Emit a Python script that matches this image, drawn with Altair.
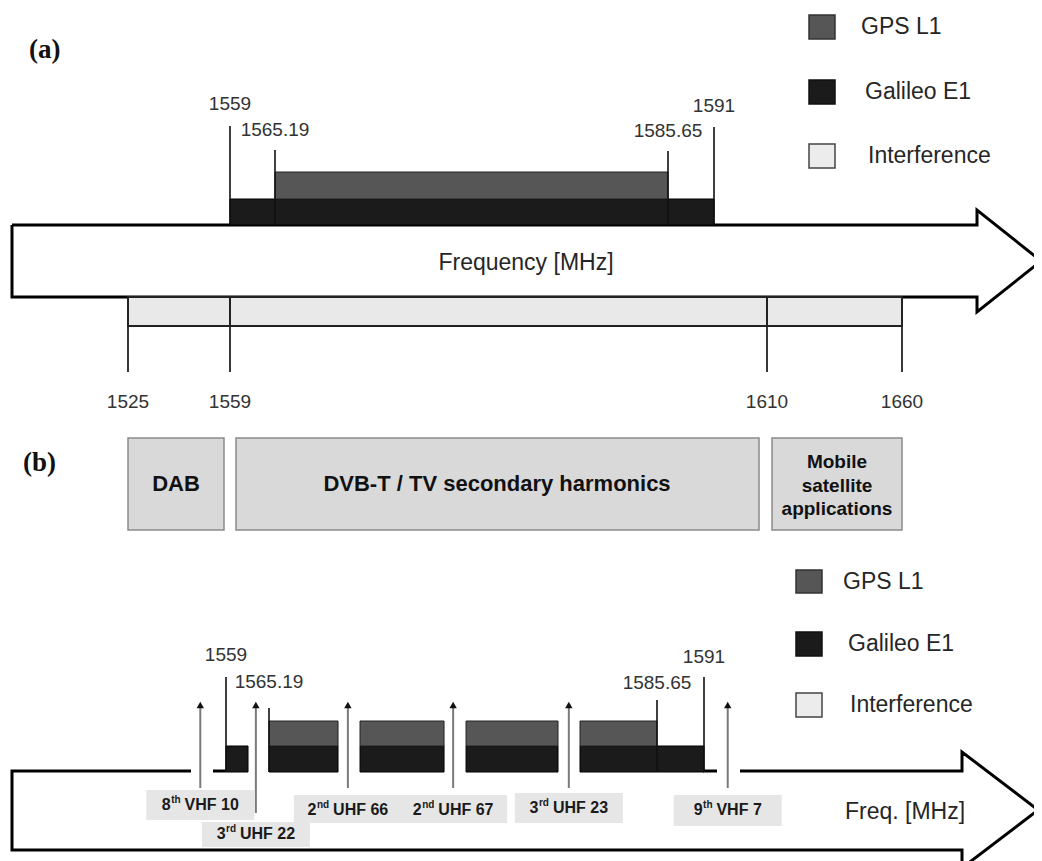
import altair as alt
import pandas as pd

# ---------------- data ----------------
LEGEND_NAMES = ["GPS L1", "Galileo E1", "Interference"]
GPS_L1 = [1565.19, 1585.65]
GALILEO_E1 = [1559, 1591]
TOP_FREQS = [1559, 1565.19, 1585.65, 1591]
TOP_LABELS = ["1559", "1565.19", "1585.65", "1591"]
INTERF_EDGES = [1525, 1559, 1610, 1660]
INTERF_LABELS = ["1525", "1559", "1610", "1660"]
BAND_NAMES = ["DAB", "DVB-T / TV secondary harmonics", "Mobile satellite applications"]
BAND_START = [1525, 1559, 1610]
BAND_END = [1559, 1610, 1660]
# panel (b): GNSS bands broken where the harmonics fall
GPS_SEG_START = [1565.19, 1569.99, 1575.58, 1581.59]
GPS_SEG_END = [1568.83, 1574.42, 1580.43, 1585.65]
GAL_SEG_START = [1559, 1565.19, 1569.99, 1575.58, 1581.59]
GAL_SEG_END = [1562.17, 1568.83, 1574.42, 1580.43, 1591]
HARM_ORDER = ["8", "3", "2", "2", "3", "9"]
HARM_SUP = ["th", "rd", "nd", "nd", "rd", "th"]
HARM_CH = ["VHF 10", "UHF 22", "UHF 66", "UHF 67", "UHF 23", "VHF 7"]
HARM_FREQ = [1555.3, 1563.3, 1569.35, 1574.9, 1581.0, 1593.7]

# ---------------- layout ----------------
W, H = 1026, 853
OFF = 8


def px(v):
    return v - OFF


C_GPS = "#565656"
C_GAL = "#1b1b1b"
C_INT = "#e9e9e9"
C_BOX = "#d9d9d9"
C_LAB = "#e6e6e6"
FONT = "Liberation Sans"

SX_A = alt.Scale(domain=[1525, 1559, 1565.19, 1585.65, 1591, 1610, 1660],
                 range=[px(v) for v in [128, 230, 275, 668, 714, 767, 902]],
                 nice=False, zero=False)
SX_B = alt.Scale(domain=[1559, 1565.19, 1585.65, 1591],
                 range=[px(v) for v in [226, 269, 657, 704]],
                 nice=False, zero=False)

dummy = pd.DataFrame({"d": [0]})
layers = []


def poly(points, w=3):
    df = pd.DataFrame({"x": [px(p[0]) for p in points],
                       "y": [px(p[1]) for p in points],
                       "i": list(range(len(points)))})
    return alt.Chart(df).mark_line(color="#000", strokeWidth=w, strokeJoin="miter").encode(
        x=alt.X("x:Q", scale=None), y=alt.Y("y:Q", scale=None), order="i:Q")


def hline(x1, x2, y, w=3):
    return alt.Chart(dummy).mark_rule(color="#000", strokeWidth=w).encode(
        x=alt.value(px(x1)), x2=alt.value(px(x2)), y=alt.value(px(y)))


def rect_px(x1, y1, x2, y2, fill, stroke, sw=1.5):
    return alt.Chart(dummy).mark_rect(fill=fill, stroke=stroke, strokeWidth=sw).encode(
        x=alt.value(px(x1)), x2=alt.value(px(x2)), y=alt.value(px(y1)), y2=alt.value(px(y2)))


def text_px(s, x, y, size, align="left", weight="normal", color="#262626", font=FONT):
    return alt.Chart(dummy).mark_text(text=s, align=align, baseline="middle", fontSize=size,
                                      fontWeight=weight, color=color, font=font).encode(
        x=alt.value(px(x)), y=alt.value(px(y)))


def band_rect(starts, ends, scale, y1, y2, fill, stroke, sw=1, xo=0, x2o=0):
    df = pd.DataFrame({"s": starts, "e": ends})
    return alt.Chart(df).mark_rect(fill=fill, stroke=stroke, strokeWidth=sw,
                                   xOffset=xo, x2Offset=x2o).encode(
        x=alt.X("s:Q", scale=scale, axis=None), x2="e:Q",
        y=alt.value(px(y1)), y2=alt.value(px(y2)))


def freq_rules(freqs, tops, bottom, scale, w=1.6, color="#111"):
    df = pd.DataFrame({"f": freqs, "t": [px(t) for t in tops]})
    return alt.Chart(df).mark_rule(color=color, strokeWidth=w).encode(
        x=alt.X("f:Q", scale=scale, axis=None), y=alt.Y("t:Q", scale=None),
        y2=alt.value(px(bottom)))


def freq_text(freqs, labels, ys, scale, size=19, color="#333"):
    df = pd.DataFrame({"f": freqs, "lab": labels, "y": [px(v) for v in ys]})
    return alt.Chart(df).mark_text(fontSize=size, font=FONT, color=color, baseline="middle").encode(
        x=alt.X("f:Q", scale=scale, axis=None), y=alt.Y("y:Q", scale=None), text="lab:N")


# ================= panel (a) =================
layers.append(text_px("(a)", 29, 50, 27, weight="bold", color="#111", font="Liberation Serif"))

# big frequency arrow
layers.append(poly([(12, 225), (977, 225), (977, 210), (1041, 261), (977, 312),
                    (977, 297), (12, 297), (12, 225)]))
layers.append(text_px("Frequency [MHz]", 526, 263, 23, align="center"))

# GNSS bands
layers.append(band_rect([GALILEO_E1[0]], [GALILEO_E1[1]], SX_A, 199, 225, C_GAL, "#000"))
layers.append(band_rect([GPS_L1[0]], [GPS_L1[1]], SX_A, 172, 199, C_GPS, "#222"))
layers.append(freq_rules(TOP_FREQS, [126, 150, 151, 127], 225, SX_A))
layers.append(freq_text(TOP_FREQS, TOP_LABELS, [104, 130, 131, 106], SX_A))

# interference band
layers.append(band_rect(BAND_START, BAND_END, SX_A, 297, 326, C_INT, "#222", sw=1.8))
layers.append(freq_rules(INTERF_EDGES, [297] * 4, 372, SX_A, w=1.8, color="#222"))
layers.append(freq_text(INTERF_EDGES, INTERF_LABELS, [402] * 4, SX_A))

# legend (a)
for name, fill, stroke, (y1, y2), tx in zip(
        LEGEND_NAMES, [C_GPS, C_GAL, "#ececec"], ["#333", "#111", "#444"],
        [(15, 39), (80, 104), (144, 168)], [861, 865, 868]):
    layers.append(rect_px(809, y1, 835, y2, fill, stroke))
    layers.append(text_px(name, tx, (y1 + y2) / 2, 23))

# ================= panel (b) =================
layers.append(text_px("(b)", 23, 463, 27, weight="bold", color="#111", font="Liberation Serif"))

# interference sources
for s, e, xo, x2o in zip(BAND_START, BAND_END, [0, 6, 5], [-6, -8, 0]):
    layers.append(band_rect([s], [e], SX_A, 438, 530, C_BOX, "#8a8a8a", sw=1.5, xo=xo, x2o=x2o))
layers.append(text_px(BAND_NAMES[0], 176, 484, 22, align="center", weight="bold", color="#111"))
layers.append(text_px(BAND_NAMES[1], 497, 484, 22, align="center", weight="bold", color="#111"))
for line, yy in zip(["Mobile", "satellite", "applications"], [462, 486, 509]):
    layers.append(text_px(line, 837, yy, 19, align="center", weight="bold", color="#111"))

# legend (b)
for name, fill, stroke, (y1, y2), tx in zip(
        LEGEND_NAMES, [C_GPS, C_GAL, "#ececec"], ["#333", "#111", "#444"],
        [(570, 593), (632, 656), (693, 717)], [843, 848, 850]):
    layers.append(rect_px(796, y1, 822, y2, fill, stroke))
    layers.append(text_px(name, tx, (y1 + y2) / 2, 23))

# big arrow (b)
layers.append(poly([(191, 771), (12, 771), (12, 850), (962, 850), (962, 868),
                    (1038, 810), (962, 752), (962, 771), (740, 771)]))
layers.append(hline(213, 226, 771))
layers.append(hline(703, 717, 771))
layers.append(text_px("Freq. [MHz]", 845, 812, 23))

# harmonic label boxes
hdf = pd.DataFrame({"f": HARM_FREQ,
                    "t": [px(v) for v in [790, 822, 795, 795, 793, 795]],
                    "b": [px(v) for v in [820, 847, 823, 823, 823, 826]],
                    "ab": [px(v) for v in [788, 813, 788, 788, 788, 788]]})
layers.append(alt.Chart(hdf).mark_rect(fill=C_LAB, xOffset=-54, x2Offset=54).encode(
    x=alt.X("f:Q", scale=SX_B, axis=None), x2="f:Q",
    y=alt.Y("t:Q", scale=None), y2="b:Q"))

# GNSS bands (b)
layers.append(band_rect(GAL_SEG_START, GAL_SEG_END, SX_B, 746, 772, C_GAL, "#000"))
layers.append(band_rect(GPS_SEG_START, GPS_SEG_END, SX_B, 721, 746, C_GPS, "#222"))
layers.append(freq_rules(TOP_FREQS, [677, 708, 700, 677], 772, SX_B))
layers.append(freq_text(TOP_FREQS, TOP_LABELS, [655, 682, 683, 657], SX_B))

# harmonic arrows
layers.append(alt.Chart(hdf).mark_rule(color="#7a7a7a", strokeWidth=2).encode(
    x=alt.X("f:Q", scale=SX_B, axis=None), y=alt.Y("ab:Q", scale=None),
    y2=alt.value(px(708))))
layers.append(alt.Chart(hdf).mark_point(shape="triangle-up", filled=True, size=55,
                                        color="#111", opacity=1).encode(
    x=alt.X("f:Q", scale=SX_B, axis=None), y=alt.value(px(705))))

# harmonic labels with superscripts
CW = {" ": .278, "V": .667, "H": .722, "F": .611, "U": .722, "t": .333, "h": .611,
      "r": .389, "d": .611, "n": .611}


def tw(s, size):
    return sum(CW.get(c, .556) for c in s) * size


for f, o, sup, ch, yy in zip(HARM_FREQ, HARM_ORDER, HARM_SUP, HARM_CH,
                             [805, 834, 810, 810, 808, 810]):
    wn, ws, wsp, wr = tw(o, 16), tw(sup, 10), tw(" ", 16), tw(ch, 16)
    start = -(wn + ws + wsp + wr) / 2
    d1 = pd.DataFrame({"f": [f]})
    for txt, dx, size, dy in [(o, start, 16, 0), (sup, start + wn + 0.5, 10, -5),
                              (ch, start + wn + ws + wsp, 16, 0)]:
        layers.append(alt.Chart(d1).mark_text(text=txt, align="left", baseline="middle",
                                              fontSize=size, fontWeight="bold", font=FONT,
                                              color="#1a1a1a", dx=dx, dy=dy).encode(
            x=alt.X("f:Q", scale=SX_B, axis=None), y=alt.value(px(yy))))

chart = alt.LayerChart(layer=layers).properties(
    width=W, height=H, padding=0, autosize=alt.AutoSizeParams(type="none"),
    background="white"
).resolve_scale(x="independent", y="independent").configure_view(strokeWidth=0)

chart.save("out.html", embed_options={"renderer": "svg", "actions": False})
